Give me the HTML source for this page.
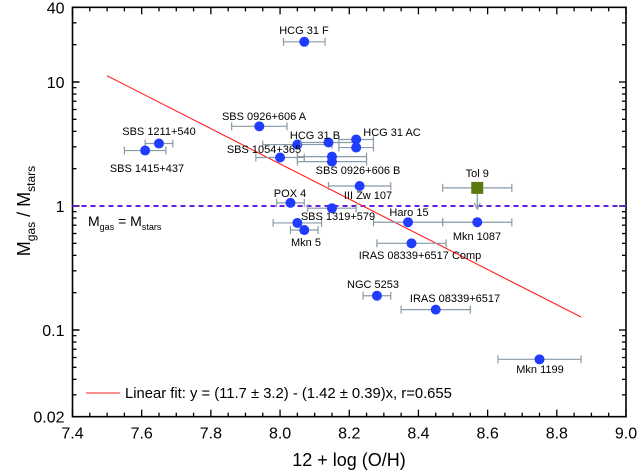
<!DOCTYPE html>
<html><head><meta charset="utf-8"><style>
body{margin:0;background:#fff;}
svg{display:block;font-family:"Liberation Sans",Arial,sans-serif;}
</style></head><body>
<svg id="chart" width="637" height="475"></svg>
<script>
const names=["HCG 31 F","SBS 1211+540","SBS 1415+437","SBS 0926+606 A","HCG 31 B-1","HCG 31 B-2","HCG 31 AC-1","HCG 31 AC-2","SBS 1054+365","SBS 0926+606 B-1","SBS 0926+606 B-2","III Zw 107","POX 4","SBS 1319+579","SBS 1319+579 b","Mkn 5","Haro 15","Mkn 1087","IRAS 08339+6517 Comp","NGC 5253","IRAS 08339+6517","Mkn 1199"];
const oh=[8.07,7.65,7.61,7.94,8.05,8.14,8.22,8.22,8.0,8.15,8.15,8.23,8.03,8.15,8.05,8.07,8.37,8.57,8.38,8.28,8.45,8.75];
const ohErr=[0.06,0.04,0.06,0.08,0.1,0.08,0.05,0.05,0.07,0.1,0.1,0.09,0.04,0.07,0.07,0.04,0.1,0.1,0.1,0.04,0.1,0.12];
const ratio=[21.1,3.19,2.8,4.39,3.13,3.25,3.44,2.96,2.46,2.5,2.28,1.45,1.06,0.96,0.73,0.64,0.74,0.74,0.5,0.189,0.146,0.058];
const labels=[["HCG 31 F",304,34,"middle"],["SBS 1211+540",159,135,"middle"],["SBS 1415+437",147,172,"middle"],["SBS 0926+606 A",264,120,"middle"],["HCG 31 B",315,139,"middle"],["HCG 31 AC",392,136,"middle"],["SBS 1054+365",264,153,"middle"],["SBS 0926+606 B",358,174,"middle"],["III Zw 107",368,199,"middle"],["POX 4",290,197,"middle"],["SBS 1319+579",338,220,"middle"],["Mkn 5",306,246,"middle"],["Haro 15",409,216,"middle"],["Mkn 1087",477,240,"middle"],["IRAS 08339+6517 Comp",420,259,"middle"],["NGC 5253",373,288,"middle"],["IRAS 08339+6517",455,302,"middle"],["Mkn 1199",540,373,"middle"]];
const tol9=[8.57,1.4,0.1];
const fitA=[11.7],fitB=[1.42],fitRange=[7.5,8.87];
const xTicks=["7.4","7.6","7.8","8.0","8.2","8.4","8.6","8.8","9.0"];
const yTicks=[0.02,0.1,1,10,40];
const yTickLabels=["0.02","0.1","1","10","40"];
const X0=72.5,X1=626,Y1=206,DEC=124;
const sx=v=>X0+(v-7.4)/1.6*(X1-X0);
const sy=v=>Y1-Math.log10(v)*DEC;
const YT=sy(40),YB=sy(0.02);
const svg=document.getElementById('chart');
const NS="http://www.w3.org/2000/svg";
function mk(t,a,p){const e=document.createElementNS(NS,t);for(const k in a)e.setAttribute(k,a[k]);(p||svg).appendChild(e);return e;}
let f=mk('rect',{x:X0,y:YT,width:X1-X0,height:YB-YT,fill:'none',stroke:'#000','stroke-width':1.6});


for(let i=0;i<=32;i++){const v=7.4+i*0.05;const x=sx(v);const L=i%4==0?7:4;
 mk('line',{x1:x,y1:YB,x2:x,y2:YB-L,stroke:'#000','stroke-width':1.3});
 mk('line',{x1:x,y1:YT,x2:x,y2:YT+L,stroke:'#000','stroke-width':1.3});}
xTicks.forEach((t,i)=>{const e=mk('text',{x:sx(parseFloat(t)),y:YB+22,'font-size':16,'text-anchor':'middle'});e.textContent=t;
 
 });
for(let d=-2;d<=1;d++)for(let m=1;m<=9;m++){const v=m*Math.pow(10,d);if(v<0.02-1e-9||v>40+1e-9)continue;const y=sy(v);const L=m==1?7:4;
 mk('line',{x1:X0,y1:y,x2:X0+L,y2:y,stroke:'#000','stroke-width':1.3});
 mk('line',{x1:X1,y1:y,x2:X1-L,y2:y,stroke:'#000','stroke-width':1.3});}
yTicks.forEach((v,i)=>{const y=sy(v);mk('line',{x1:X0,y1:y,x2:X0+7,y2:y,stroke:'#000','stroke-width':1.3});
 const e=mk('text',{x:X0-8,y:y+6,'font-size':16,'text-anchor':'end'});e.textContent=yTickLabels[i];
 
 });
let dl=mk('line',{x1:X0,y1:sy(1),x2:X1,y2:sy(1),stroke:'#6a1be0','stroke-width':2,'stroke-dasharray':'5,4'});


let eq=mk('text',{x:88,y:226,'font-size':14});eq.innerHTML='M<tspan font-size="9" dy="4">gas</tspan><tspan dy="-4"> = M</tspan><tspan font-size="9" dy="4">stars</tspan>';


const fx1=fitRange[0],fx2=fitRange[1];
let fl=mk('line',{x1:sx(fx1),y1:Y1-(fitA[0]-fitB[0]*fx1)*DEC,x2:sx(fx2),y2:Y1-(fitA[0]-fitB[0]*fx2)*DEC,stroke:'#ff2020','stroke-width':1.1});


oh.forEach((v,i)=>{const g=mk('g',{});
 
 
 const y=sy(ratio[i]),xa=sx(v-ohErr[i]),xb=sx(v+ohErr[i]);
 mk('line',{x1:xa,y1:y,x2:xb,y2:y,stroke:'#8a9aa6','stroke-width':1.2},g);
 mk('line',{x1:xa,y1:y-4,x2:xa,y2:y+4,stroke:'#8a9aa6','stroke-width':1.2},g);
 mk('line',{x1:xb,y1:y-4,x2:xb,y2:y+4,stroke:'#8a9aa6','stroke-width':1.2},g);
 mk('circle',{cx:sx(v),cy:y,r:5,fill:'#1f3cff'},g);});
{const g=mk('g',{});
 
 
 const x=sx(tol9[0]),y=sy(tol9[1]),xa=sx(tol9[0]-tol9[2]),xb=sx(tol9[0]+tol9[2]);
 mk('line',{x1:xa,y1:y,x2:xb,y2:y,stroke:'#8a9aa6','stroke-width':1.2},g);
 mk('line',{x1:xa,y1:y-4,x2:xa,y2:y+4,stroke:'#8a9aa6','stroke-width':1.2},g);
 mk('line',{x1:xb,y1:y-4,x2:xb,y2:y+4,stroke:'#8a9aa6','stroke-width':1.2},g);
 mk('line',{x1:x,y1:y,x2:x,y2:y+20,stroke:'#8a9aa6','stroke-width':1.3},g);
 mk('path',{d:`M${x-3},${y+15} L${x},${y+21} L${x+3},${y+15}`,fill:'none',stroke:'#8a9aa6','stroke-width':1.3},g);
 mk('rect',{x:x-6,y:y-6,width:12,height:12,fill:'#5a7a10'},g);
 const t=mk('text',{x:x,y:y-11,'font-size':11,'text-anchor':'middle'},g);t.textContent='Tol 9';}
labels.forEach(l=>{const e=mk('text',{x:l[1],y:l[2],'font-size':11,'text-anchor':l[3]});e.textContent=l[0];
 
 });
let lg=mk('line',{x1:86,y1:393,x2:120,y2:393,stroke:'#ff2020','stroke-width':1.1});


let lt=mk('text',{x:125,y:398,'font-size':14.8});lt.textContent='Linear fit: y = (11.7 \u00b1 3.2) - (1.42 \u00b1 0.39)x, r=0.655';


let xt=mk('text',{x:349,y:466,'font-size':18,'text-anchor':'middle'});xt.textContent='12 + log (O/H)';


let yt=mk('text',{x:0,y:0,'font-size':18,'text-anchor':'middle',transform:'translate(30,211) rotate(-90)'});
yt.innerHTML='M<tspan font-size="12" dy="5">gas</tspan><tspan dy="-5"> / M</tspan><tspan font-size="12" dy="5">stars</tspan>';


</script>
</body></html>
